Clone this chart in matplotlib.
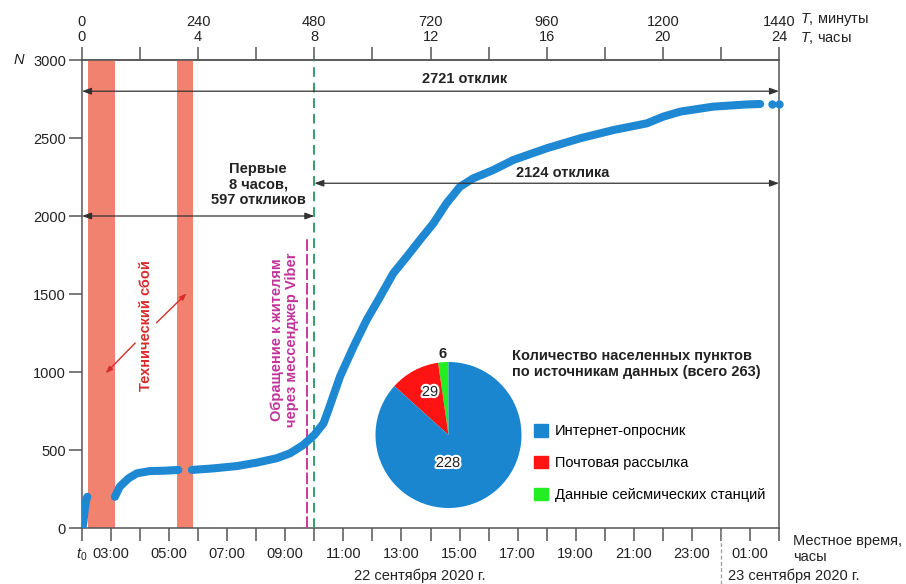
import matplotlib.pyplot as plt
import matplotlib.patheffects as pe
from matplotlib.patches import Patch
import matplotlib.transforms as mtransforms

plt.rcParams['font.family'] = ['Liberation Sans', 'DejaVu Sans']
plt.rcParams['mathtext.fontset'] = 'custom'
plt.rcParams['mathtext.it'] = 'Liberation Sans:italic'
plt.rcParams['mathtext.rm'] = 'Liberation Sans'

# Cumulative number of responses N vs minutes since t0 (three pieces, gaps = outages)
seg1_t = [1, 3, 5, 7, 9, 11]
seg1_n = [0, 40, 100, 150, 185, 200]
seg2_t = [68, 78, 96, 113, 140, 168, 199]
seg2_n = [200, 265, 318, 350, 365, 367, 372]
seg3_t = [227, 271, 320, 361, 402, 430, 457, 480, 499, 509, 533, 561, 588, 616, 643,
          671, 698, 726, 753, 781, 808, 850, 891, 960, 1029, 1098, 1167, 1201, 1236,
          1304, 1373, 1401]
seg3_n = [372, 382, 397, 419, 447, 479, 532, 597, 671, 756, 970, 1162, 1333, 1483, 1632,
          1739, 1846, 1953, 2081, 2188, 2241, 2295, 2359, 2434, 2498, 2551, 2594, 2637, 2669,
          2701, 2715, 2718]
tail_t = [1425, 1439]
tail_n = [2721, 2721]

outages = [(13, 68), (197, 230)]
viber_t = 465
first_part = 480

# Pie: settlements by data source
sources = ['Интернет-опросник', 'Почтовая рассылка', 'Данные сейсмических станций']
counts = [228, 29, 6]
pie_colors = ['#1a86cf', '#ff1414', '#22ee22']

top_ticks = list(range(0, 1441, 240))
top_labels = [f'{m}\n{m // 60}' for m in top_ticks]
bottom_ticks = [0] + list(range(60, 1381, 120))
bottom_labels = ['$t_0$', '03:00', '05:00', '07:00', '09:00', '11:00', '13:00', '15:00',
                 '17:00', '19:00', '21:00', '23:00', '01:00']

W, H = 906, 584
fig = plt.figure(figsize=(W / 100, H / 100), dpi=100)
ax = fig.add_axes([82 / W, 1 - 528 / H, (779 - 82) / W, (528 - 60) / H])

curve_c = '#1e88d2'
spine_c = '#555555'
txt_c = '#222222'
fs = 10.5

for a, b in outages:
    ax.axvspan(a, b, color='#f0826f', lw=0, zorder=1)

for t, n in [(seg1_t, seg1_n), (seg2_t, seg2_n), (seg3_t, seg3_n)]:
    ax.plot(t, n, color=curve_c, lw=5.8, solid_capstyle='round', solid_joinstyle='round', zorder=4)
ax.plot(tail_t, tail_n, 'o', color=curve_c, ms=6, mec='none', zorder=4, clip_on=False)

ax.axvline(first_part, color='#2f9f6c', lw=1.4, dashes=(5, 3), zorder=3)
ax.plot([viber_t, viber_t], [0, 1860], color='#c83a9e', lw=1.4, dashes=(6, 1.5), zorder=3)

ax.set_xlim(0, 1440)
ax.set_ylim(0, 3000)
for s in ax.spines.values():
    s.set_color(spine_c)
    s.set_linewidth(1.1)

ax.set_yticks(range(0, 3001, 500))
ax.set_xticks(bottom_ticks, bottom_labels)
ax.set_xticks(range(0, 1441, 60), minor=True)
ax.tick_params(axis='both', which='both', direction='out', length=9.5, width=1.1,
               color=spine_c, labelsize=fs, labelcolor=txt_c)
ax.tick_params(axis='x', which='major', pad=4)
ax.tick_params(axis='y', pad=2)

top = ax.secondary_xaxis('top')
top.set_xticks(top_ticks, top_labels)
top.set_xticks(range(0, 1441, 120), minor=True)
top.tick_params(axis='x', which='both', direction='out', length=9.5, width=1.1,
                color=spine_c, labelsize=fs, labelcolor=txt_c, pad=2)
for lab in top.get_xticklabels():
    lab.set_linespacing(1.05)
top.spines['top'].set_color(spine_c)
top.spines['top'].set_linewidth(1.1)

# axis captions
fig.text(800 / W, 1 - 19 / H, '$T$, минуты', fontsize=fs, color=txt_c, va='center')
fig.text(800 / W, 1 - 38 / H, '$T$, часы', fontsize=fs, color=txt_c, va='center')
fig.text(13 / W, 1 - 60 / H, '$N$', fontsize=fs, color=txt_c, va='center')
fig.text(793 / W, 1 - 549 / H, 'Местное время,\nчасы', fontsize=fs, color=txt_c,
         va='center', linespacing=1.25)
fig.text(420 / W, 1 - 576 / H, '22 сентября 2020 г.', fontsize=fs, color=txt_c,
         ha='center', va='center')
fig.text(728 / W, 1 - 576 / H, '23 сентября 2020 г.', fontsize=fs, color=txt_c,
         va='center')
midnight = mtransforms.blended_transform_factory(ax.transData, fig.transFigure)
fig.lines.append(plt.Line2D([1320, 1320], [0, 1 - 530 / H], transform=midnight,
                            color='#999999', lw=0.9, dashes=(3, 2)))

# interval arrows
arrow_kw = dict(arrowstyle='<|-|>,head_length=0.55,head_width=0.2', color='#333333',
                lw=0.9, shrinkA=0, shrinkB=0)
ax.annotate('', xy=(0, 2800), xytext=(1440, 2800), arrowprops=arrow_kw, zorder=5)
ax.annotate('', xy=(0, 2000), xytext=(first_part, 2000), arrowprops=arrow_kw, zorder=5)
ax.annotate('', xy=(first_part, 2210), xytext=(1440, 2210), arrowprops=arrow_kw, zorder=5)
ax.text(791, 2835, '2721 отклик', fontsize=fs, fontweight='bold', color=txt_c,
        ha='center', va='bottom')
ax.text(364, 2200, 'Первые\n8 часов,\n597 откликов', fontsize=fs, fontweight='bold',
        color=txt_c, ha='center', va='center', linespacing=1.15)
ax.text(994, 2275, '2124 отклика', fontsize=fs, fontweight='bold', color=txt_c,
        ha='center', va='center')

# outage note
red_c = '#d82c2c'
ax.text(132, 1300, 'Технический сбой', fontsize=fs, fontweight='bold', color=red_c,
        rotation=90, ha='center', va='center')
red_arrow = dict(arrowstyle='-|>,head_length=0.4,head_width=0.15', color=red_c, lw=1.0,
                 shrinkA=0, shrinkB=0)
ax.annotate('', xy=(49, 992), xytext=(110, 1186), arrowprops=red_arrow)
ax.annotate('', xy=(216, 1504), xytext=(154, 1316), arrowprops=red_arrow)

ax.text(419, 1205, 'Обращение к жителям\nчерез мессенджер Viber', fontsize=fs,
        fontweight='bold', color='#c3339a', rotation=90, ha='center', va='center',
        linespacing=1.1)

# inset pie
pax = fig.add_axes([375 / W, 1 - 508 / H, 147 / W, 146 / H])
pax.pie(counts[::-1], colors=pie_colors[::-1], startangle=90, counterclock=True,
        radius=1.0, wedgeprops=dict(linewidth=0))
pax.set_xlim(-1.0, 1.0)
pax.set_ylim(-1.0, 1.0)
pax.set_aspect('equal')
stroke = [pe.withStroke(linewidth=3, foreground='white')]
fig.text(448 / W, 1 - 463 / H, str(counts[0]), fontsize=fs, color=txt_c, ha='center',
         va='center', path_effects=stroke)
fig.text(430 / W, 1 - 392 / H, str(counts[1]), fontsize=fs, color=txt_c, ha='center',
         va='center', path_effects=stroke)
fig.text(443 / W, 1 - 354 / H, str(counts[2]), fontsize=fs, fontweight='bold',
         color=txt_c, ha='center', va='center')

fig.text(512 / W, 1 - 364 / H, 'Количество населенных пунктов\nпо источникам данных (всего 263)',
         fontsize=fs, fontweight='bold', color=txt_c, va='center', linespacing=1.15)
handles = [Patch(color=c, label=l) for c, l in zip(pie_colors, sources)]
fig.legend(handles=handles, loc='upper left', bbox_to_anchor=(534 / W, 1 - 424 / H),
           frameon=False, fontsize=fs, handlelength=0.95, handleheight=0.95,
           handletextpad=0.5, labelspacing=1.2, borderaxespad=0, borderpad=0)

fig.savefig('out.png', dpi=100, facecolor='white')
